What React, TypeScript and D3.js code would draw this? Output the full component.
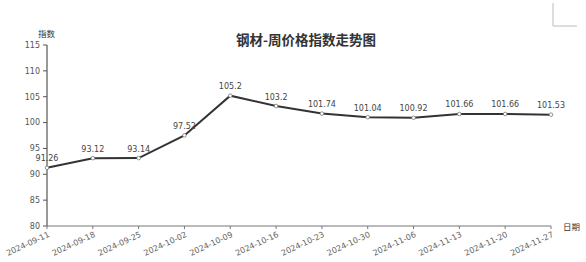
import React from "react";
import * as d3 from "d3";

const dates = [
  "2024-09-11", "2024-09-18", "2024-09-25", "2024-10-02", "2024-10-09", "2024-10-16",
  "2024-10-23", "2024-10-30", "2024-11-06", "2024-11-13", "2024-11-20", "2024-11-27",
];
const values = [91.26, 93.12, 93.14, 97.52, 105.2, 103.2, 101.74, 101.04, 100.92, 101.66, 101.66, 101.53];
const yTicks = [80, 85, 90, 95, 100, 105, 110, 115];

const W = 586;
const H = 262;
const left = 47;
const right = 551;
const top = 45;
const bottom = 226;
const font = "'DejaVu Sans', sans-serif";

export default function App() {
  const x = d3.scalePoint<string>().domain(dates).range([left, right]);
  const y = d3.scaleLinear().domain([80, 115]).range([bottom, top]);
  const line = d3
    .line<number>()
    .x((_, i) => x(dates[i]) as number)
    .y((d) => y(d));

  return (
    <svg
      width={W}
      height={H}
      style={{ position: "absolute", left: 0, top: 0, background: "#fff" }}
    >
      {/* corner marks */}
      <path d="M553,3 V26 H577" fill="none" stroke="#bbb" strokeWidth={1} />

      <text
        x={306}
        y={45}
        textAnchor="middle"
        fontFamily="'Noto Sans CJK SC', sans-serif"
        fontWeight="bold"
        fontSize={13.5}
        fill="#333"
      >
        钢材-周价格指数走势图
      </text>

      <text x={38} y={37} fontFamily="'Noto Sans CJK SC', sans-serif" fontSize={8.5} fill="#333">
        指数
      </text>
      <text x={563} y={230} fontFamily="'Noto Sans CJK SC', sans-serif" fontSize={8.5} fill="#333">
        日期
      </text>

      {/* y axis */}
      <line x1={left} x2={left} y1={top} y2={bottom} stroke="#555" strokeWidth={1.2} />
      {yTicks.map((t) => (
        <g key={t}>
          <line x1={left - 4} x2={left} y1={y(t)} y2={y(t)} stroke="#555" />
          <text
            x={left - 7}
            y={y(t)}
            dy="0.35em"
            textAnchor="end"
            fontFamily={font}
            fontSize={8}
            fill="#555"
          >
            {t}
          </text>
        </g>
      ))}

      {/* x axis */}
      <line x1={left} x2={right} y1={bottom} y2={bottom} stroke="#777" strokeWidth={1} />
      {dates.map((d) => {
        const px = x(d) as number;
        return (
          <g key={d}>
            <line x1={px} x2={px} y1={bottom} y2={bottom + 3} stroke="#777" />
            <text
              transform={`translate(${px + 1},${bottom + 6}) rotate(-25)`}
              textAnchor="end"
              dy="0.6em"
              fontFamily={font}
              fontSize={8}
              fill="#666"
            >
              {d}
            </text>
          </g>
        );
      })}

      <path d={line(values) ?? ""} fill="none" stroke="#333" strokeWidth={2} />
      {values.map((v, i) => {
        const px = x(dates[i]) as number;
        return (
          <g key={i}>
            <circle cx={px} cy={y(v)} r={1.8} fill="#fff" stroke="#777" strokeWidth={0.8} />
            <text
              x={px}
              y={y(v) - 6.5}
              textAnchor="middle"
              fontFamily={font}
              fontSize={8}
              fill="#444"
            >
              {v}
            </text>
          </g>
        );
      })}
    </svg>
  );
}
